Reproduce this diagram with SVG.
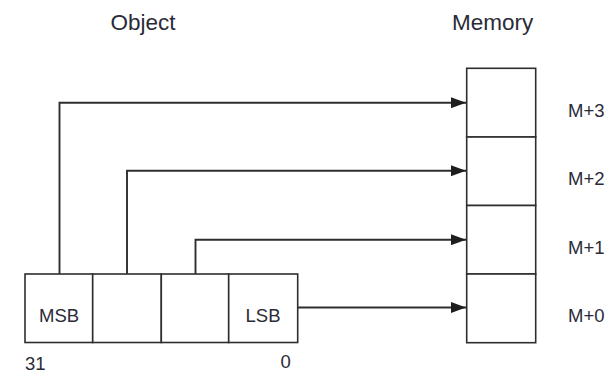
<svg xmlns="http://www.w3.org/2000/svg" width="605" height="373" viewBox="0 0 605 373">
  <style>
    .box { fill: #ffffff; stroke: #2e2e2e; stroke-width: 1.6; }
    .wire { fill: none; stroke: #2e2e2e; stroke-width: 1.9; }
    .title { font-family: "Liberation Sans", Arial, sans-serif; font-size: 22.5px; fill: #2b2b38; }
    .lbl { font-family: "Liberation Sans", Arial, sans-serif; font-size: 18.5px; fill: #2b2b38; }
  </style>
  <defs>
    <marker id="arrow" viewBox="0 0 15 11" refX="15" refY="5.5" markerWidth="15" markerHeight="11" markerUnits="userSpaceOnUse" orient="auto">
      <path d="M0,0 L15,5.5 L0,11 Z" fill="#1e1e1e"/>
    </marker>
  </defs>
  <rect width="605" height="373" fill="#ffffff"/>

  <!-- headings -->
  <text class="title" x="110.5" y="30">Object</text>
  <text class="title" x="452" y="30">Memory</text>

  <!-- 32-bit object split into four bytes -->
  <g id="object">
    <rect class="box" x="25" y="274" width="67.7" height="68.5"/>
    <rect class="box" x="92.7" y="274" width="68.6" height="68.5"/>
    <rect class="box" x="161.3" y="274" width="67.4" height="68.5"/>
    <rect class="box" x="228.7" y="274" width="69" height="68.5"/>
    <text class="lbl" x="39" y="321.5">MSB</text>
    <text class="lbl" x="245.5" y="321.5">LSB</text>
  </g>
  <g id="bit-index">
    <text class="lbl" x="25" y="369.5">31</text>
    <text class="lbl" x="280.5" y="368" font-size="16">0</text>
  </g>

  <!-- memory cells, highest address on top -->
  <g id="memory">
    <rect class="box" x="466.7" y="68.3" width="69" height="68.7"/>
    <rect class="box" x="466.7" y="137" width="69" height="68.5"/>
    <rect class="box" x="466.7" y="205.5" width="69" height="68.5"/>
    <rect class="box" x="466.7" y="274" width="69" height="68.7"/>
  </g>
  <g id="addresses">
    <text class="lbl" x="568" y="117">M+3</text>
    <text class="lbl" x="568" y="185">M+2</text>
    <text class="lbl" x="568" y="254">M+1</text>
    <text class="lbl" x="568" y="322">M+0</text>
  </g>

  <!-- byte-to-address connectors -->
  <g id="connectors">
    <path class="wire" d="M59.5,274 V102.7 H466" marker-end="url(#arrow)"/>
    <path class="wire" d="M127,274 V170.7 H466" marker-end="url(#arrow)"/>
    <path class="wire" d="M195.5,274 V239.7 H466" marker-end="url(#arrow)"/>
    <path class="wire" d="M297.7,307.5 H466" marker-end="url(#arrow)"/>
  </g>
</svg>
